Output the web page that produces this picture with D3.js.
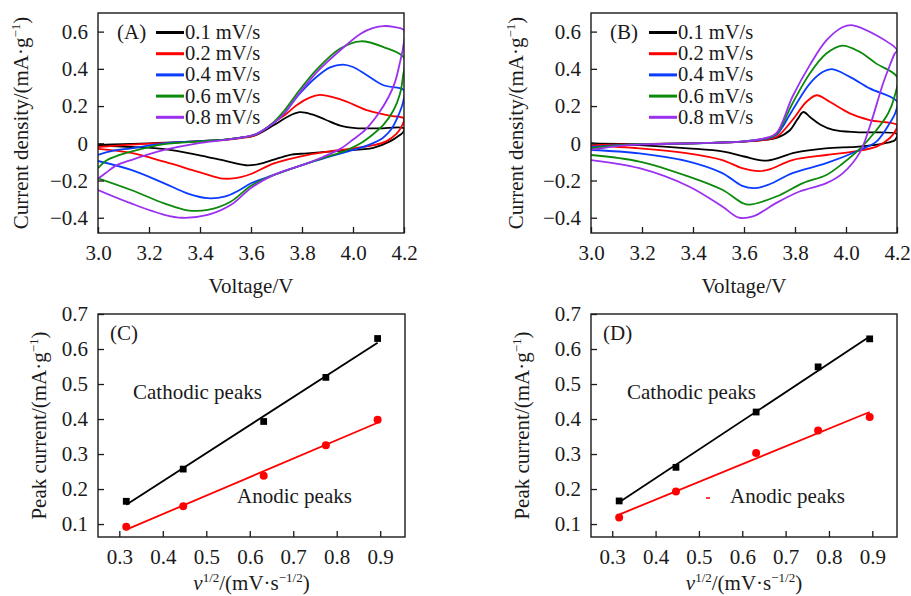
<!DOCTYPE html>
<html>
<head>
<meta charset="utf-8">
<script src="https://cdn.jsdelivr.net/npm/d3@7"></script>
<style>
body { margin: 0; background: #fff; }
svg { display: block; font-family: "Liberation Serif", "Times New Roman", serif; }
</style>
</head>
<body>
<div id="figure"></div>
<script>
// scan rates and colours
const rateLabels = ['0.1 mV/s', '0.2 mV/s', '0.4 mV/s', '0.6 mV/s', '0.8 mV/s']
const rateColors = ['#000000', '#ff0000', '#0a3cff', '#0b8a0b', '#9b30f0']

const voltTicks = [3.0, 3.2, 3.4, 3.6, 3.8, 4.0, 4.2]
const currentTicks = [-0.4, -0.2, 0, 0.2, 0.4, 0.6]
const rootTicks = [0.3, 0.4, 0.5, 0.6, 0.7, 0.8, 0.9]
const peakTicks = [0.1, 0.2, 0.3, 0.4, 0.5, 0.6, 0.7]

// CV loops [voltage, current] : anodic sweep 3.0 -> 4.2 then cathodic sweep back
const cvA01 = [[3.0,-0.008],[3.1,-0.004],[3.2,0.0],[3.3,0.005],[3.4,0.012],[3.5,0.02],[3.56,0.03],[3.62,0.045],[3.69,0.098],[3.74,0.14],[3.79,0.167],[3.84,0.155],[3.89,0.128],[3.95,0.095],[4.01,0.082],[4.1,0.08],[4.2,0.08],
  [4.197,0.06],[4.184,0.045],[4.145,0.01],[4.08,-0.024],[3.95,-0.04],[3.82,-0.054],[3.75,-0.063],[3.69,-0.088],[3.63,-0.112],[3.58,-0.118],[3.5,-0.095],[3.39,-0.062],[3.26,-0.031],[3.13,-0.02],[3.0,-0.012]]
const cvA02 = [[3.0,-0.02],[3.1,-0.01],[3.2,-0.002],[3.3,0.004],[3.4,0.01],[3.5,0.018],[3.56,0.028],[3.62,0.045],[3.69,0.112],[3.74,0.16],[3.78,0.206],[3.83,0.245],[3.87,0.26],[3.92,0.248],[3.975,0.224],[4.05,0.18],[4.145,0.148],[4.2,0.133],
  [4.19,0.09],[4.17,0.05],[4.13,0.01],[4.08,-0.01],[3.95,-0.036],[3.82,-0.063],[3.69,-0.108],[3.6,-0.165],[3.56,-0.182],[3.52,-0.19],[3.48,-0.188],[3.39,-0.152],[3.26,-0.099],[3.13,-0.052],[3.0,-0.03]]
const cvA04 = [[3.0,-0.063],[3.06,-0.04],[3.13,-0.027],[3.26,0.0],[3.4,0.012],[3.5,0.02],[3.56,0.03],[3.62,0.048],[3.69,0.11],[3.73,0.16],[3.79,0.265],[3.86,0.36],[3.91,0.408],[3.96,0.423],[4.0,0.41],[4.05,0.37],[4.12,0.312],[4.2,0.285],
  [4.196,0.22],[4.178,0.15],[4.15,0.075],[4.118,0.03],[4.06,-0.01],[3.99,-0.04],[3.9,-0.075],[3.82,-0.108],[3.69,-0.17],[3.6,-0.215],[3.55,-0.255],[3.5,-0.285],[3.43,-0.295],[3.35,-0.269],[3.26,-0.215],[3.13,-0.143],[3.0,-0.095]]
const cvA06 = [[3.0,-0.134],[3.03,-0.095],[3.07,-0.07],[3.13,-0.045],[3.26,-0.005],[3.4,0.01],[3.5,0.02],[3.56,0.03],[3.62,0.05],[3.69,0.115],[3.73,0.175],[3.79,0.285],[3.86,0.4],[3.95,0.509],[4.03,0.548],[4.12,0.517],[4.2,0.46],
  [4.196,0.36],[4.184,0.265],[4.16,0.18],[4.12,0.1],[4.08,0.05],[4.03,0.0],[3.97,-0.04],[3.88,-0.08],[3.82,-0.108],[3.69,-0.17],[3.6,-0.228],[3.52,-0.314],[3.43,-0.358],[3.35,-0.36],[3.26,-0.323],[3.13,-0.251],[3.0,-0.188]]
const cvA08 = [[3.0,-0.19],[3.03,-0.16],[3.07,-0.12],[3.13,-0.09],[3.26,-0.036],[3.39,0.0],[3.5,0.018],[3.56,0.03],[3.62,0.05],[3.69,0.11],[3.73,0.16],[3.79,0.27],[3.86,0.385],[3.95,0.5],[4.03,0.589],[4.08,0.62],[4.12,0.63],[4.16,0.625],[4.2,0.607],
  [4.197,0.52],[4.185,0.44],[4.165,0.33],[4.14,0.25],[4.1,0.16],[4.05,0.075],[4.0,0.02],[3.95,-0.03],[3.88,-0.075],[3.82,-0.108],[3.69,-0.17],[3.6,-0.24],[3.52,-0.332],[3.43,-0.385],[3.33,-0.4],[3.26,-0.384],[3.13,-0.323],[3.0,-0.251]]

const cvB01 = [[3.0,0.0],[3.2,-0.003],[3.4,0.0],[3.6,0.009],[3.69,0.02],[3.73,0.03],[3.78,0.07],[3.81,0.13],[3.833,0.168],[3.86,0.14],[3.9,0.1],[3.95,0.072],[4.05,0.059],[4.2,0.05],
  [4.198,0.03],[4.19,0.015],[4.15,0.0],[4.05,-0.018],[3.92,-0.027],[3.8,-0.05],[3.69,-0.093],[3.6,-0.071],[3.52,-0.045],[3.38,-0.027],[3.19,-0.01],[3.0,0.0]]
const cvB02 = [[3.0,-0.01],[3.2,-0.004],[3.4,0.0],[3.6,0.009],[3.69,0.02],[3.73,0.036],[3.79,0.125],[3.845,0.223],[3.885,0.258],[3.936,0.223],[4.015,0.161],[4.093,0.125],[4.2,0.098],
  [4.195,0.07],[4.171,0.027],[4.12,-0.018],[4.027,-0.045],[3.923,-0.063],[3.79,-0.09],[3.7,-0.14],[3.66,-0.15],[3.593,-0.134],[3.515,-0.09],[3.38,-0.054],[3.19,-0.027],[3.0,-0.012]]
const cvB04 = [[3.0,-0.02],[3.1,-0.01],[3.2,-0.005],[3.4,0.0],[3.6,0.01],[3.69,0.025],[3.727,0.045],[3.79,0.178],[3.858,0.321],[3.91,0.384],[3.945,0.398],[4.015,0.357],[4.093,0.295],[4.2,0.225],
  [4.195,0.17],[4.171,0.107],[4.119,0.009],[4.054,-0.036],[3.923,-0.107],[3.79,-0.16],[3.7,-0.22],[3.645,-0.241],[3.593,-0.229],[3.515,-0.16],[3.384,-0.098],[3.19,-0.054],[3.0,-0.036]]
const cvB06 = [[3.0,-0.027],[3.1,-0.012],[3.2,-0.005],[3.4,0.0],[3.6,0.01],[3.69,0.028],[3.727,0.05],[3.79,0.214],[3.858,0.375],[3.923,0.482],[3.985,0.525],[4.054,0.491],[4.119,0.428],[4.2,0.357],
  [4.19,0.25],[4.165,0.16],[4.119,0.07],[4.054,-0.03],[3.988,-0.107],[3.923,-0.17],[3.831,-0.214],[3.727,-0.286],[3.62,-0.33],[3.593,-0.32],[3.515,-0.25],[3.384,-0.179],[3.19,-0.098],[3.0,-0.063]]
const cvB08 = [[3.0,-0.036],[3.1,-0.015],[3.2,-0.006],[3.4,0.0],[3.6,0.01],[3.69,0.03],[3.727,0.054],[3.79,0.25],[3.858,0.42],[3.923,0.553],[3.988,0.625],[4.027,0.634],[4.119,0.58],[4.2,0.5],
  [4.19,0.48],[4.178,0.44],[4.145,0.32],[4.093,0.089],[4.054,-0.05],[3.988,-0.16],[3.923,-0.214],[3.818,-0.259],[3.727,-0.32],[3.635,-0.393],[3.58,-0.4],[3.515,-0.34],[3.384,-0.232],[3.19,-0.134],[3.0,-0.09]]

// peak currents vs square root of scan rate
const sqrtRate = [0.316, 0.447, 0.632, 0.775, 0.894]
const cathodicC = [0.165, 0.257, 0.393, 0.519, 0.63]
const anodicC = [0.092, 0.151, 0.238, 0.325, 0.398]
const cathodicD = [0.166, 0.262, 0.42, 0.549, 0.629]
const anodicD = [0.119, 0.193, 0.303, 0.367, 0.406]

const svg = d3.select('#figure').append('svg')
  .attr('width', 911)
  .attr('height', 596)

svg.append('rect').attr('width', 911).attr('height', 596).attr('fill', '#fff')

const FS = 21
const ink = '#1a1a1a'

function fmtSigned(d) {
  if (d === 0) return '0'
  return (d < 0 ? '\u2212' : '') + Math.abs(d).toFixed(1)
}

function drawFrame(x, y, xTicks, yTicks, xFmt, yFmt, xPad, yPad) {
  const g = svg.append('g')
  const [x0, x1] = x.range()
  const [y1, y0] = y.range()

  g.append('g')
    .attr('transform', `translate(0,${y1})`)
    .call(d3.axisBottom(x).tickValues(xTicks).tickFormat(xFmt)
      .tickSizeInner(-6).tickSizeOuter(0).tickPadding(xPad))
    .call(a => a.select('.domain').remove())

  g.append('g')
    .attr('transform', `translate(${x0},0)`)
    .call(d3.axisLeft(y).tickValues(yTicks).tickFormat(yFmt)
      .tickSizeInner(-6).tickSizeOuter(0).tickPadding(yPad))
    .call(a => a.select('.domain').remove())

  g.selectAll('.tick line').attr('stroke', ink).attr('stroke-width', 1.3)
  g.selectAll('.tick text')
    .attr('fill', ink)
    .style('font-family', '"Liberation Serif", serif')
    .style('font-size', FS + 'px')

  g.append('rect')
    .attr('x', x0).attr('y', y0)
    .attr('width', x1 - x0).attr('height', y1 - y0)
    .attr('fill', 'none')
    .attr('stroke', ink)
    .attr('stroke-width', 1.4)
  return g
}

function label(px, py, str, anchor, size) {
  return svg.append('text')
    .attr('x', px).attr('y', py)
    .attr('text-anchor', anchor || 'start')
    .attr('fill', ink)
    .style('font-size', (size || FS) + 'px')
    .text(str)
}

function yTitle(px, py, main) {
  const t = svg.append('text')
    .attr('transform', `translate(${px},${py}) rotate(-90)`)
    .attr('text-anchor', 'middle')
    .attr('fill', ink)
    .style('font-size', FS + 'px')
  t.append('tspan').text(main + '/(mA\u00b7g')
  t.append('tspan').attr('dy', -8).style('font-size', '13px').text('\u22121')
  t.append('tspan').attr('dy', 8).text(')')
}

function rootTitle(px, py) {
  const t = svg.append('text')
    .attr('x', px).attr('y', py)
    .attr('text-anchor', 'middle')
    .attr('fill', ink)
    .style('font-size', FS + 'px')
  t.append('tspan').style('font-style', 'italic').text('v')
  t.append('tspan').attr('dy', -8).style('font-size', '13px').text('1/2')
  t.append('tspan').attr('dy', 8).text('/(mV\u00b7s')
  t.append('tspan').attr('dy', -8).style('font-size', '13px').text('\u22121/2')
  t.append('tspan').attr('dy', 8).text(')')
}

// ---------- CV panels ----------
function cvPanel(x0, x1, loops, tag) {
  const x = d3.scaleLinear().domain([3.0, 4.2]).range([x0, x1])
  const y = d3.scaleLinear().domain([-0.482, 0.70]).range([233, 13])
  const line = d3.line()
    .x(d => x(d[0]))
    .y(d => y(d[1]))
    .curve(d3.curveCatmullRom.alpha(0.5))

  const clipId = 'clip' + tag
  svg.append('clipPath').attr('id', clipId)
    .append('rect').attr('x', x0).attr('y', 13).attr('width', x1 - x0).attr('height', 220)

  svg.append('g').attr('clip-path', `url(#${clipId})`)
    .selectAll('path')
    .data(loops)
    .join('path')
    .attr('d', line)
    .attr('fill', 'none')
    .attr('stroke', (d, i) => rateColors[i])
    .attr('stroke-width', 1.8)

  drawFrame(x, y, voltTicks, currentTicks, d3.format('.1f'), fmtSigned, 12, 10)

  // legend
  const lg = svg.append('g')
  rateLabels.forEach((r, i) => {
    const cy = 32.5 + i * 21.2
    lg.append('line')
      .attr('x1', x0 + 58).attr('x2', x0 + 86)
      .attr('y1', cy).attr('y2', cy)
      .attr('stroke', rateColors[i])
      .attr('stroke-width', 3)
    label(x0 + 87, cy + 6.5, r, 'start', 20.5)
  })
  label(x0 + 19, 39, '(' + tag + ')')
  label((x0 + x1) / 2, 293, 'Voltage/V', 'middle')
}

cvPanel(98, 404, [cvA01, cvA02, cvA04, cvA06, cvA08], 'A')
cvPanel(591, 897, [cvB01, cvB02, cvB04, cvB06, cvB08], 'B')
yTitle(27.5, 123, 'Current density')
yTitle(522.5, 123, 'Current density')

// ---------- peak current panels ----------
function fit(xs, ys) {
  const mx = d3.mean(xs), my = d3.mean(ys)
  const k = d3.sum(xs, (v, i) => (v - mx) * (ys[i] - my)) / d3.sum(xs, v => (v - mx) ** 2)
  return v => my + k * (v - mx)
}

function peakPanel(x0, x1, cath, anod, tag, cathX, anodX) {
  const x = d3.scaleLinear().domain([0.251, 0.957]).range([x0, x1])
  const y = d3.scaleLinear().domain([0.063, 0.70]).range([537, 314])

  drawFrame(x, y, rootTicks, peakTicks, d3.format('.1f'), d3.format('.1f'), 12, 10)

  const series = [
    { vals: cath, color: '#000000', shape: 'square' },
    { vals: anod, color: '#ff0000', shape: 'circle' }
  ]
  series.forEach(s => {
    const f = fit(sqrtRate, s.vals)
    const ends = d3.extent(sqrtRate)
    svg.append('line')
      .attr('x1', x(ends[0])).attr('y1', y(f(ends[0])))
      .attr('x2', x(ends[1])).attr('y2', y(f(ends[1])))
      .attr('stroke', s.color)
      .attr('stroke-width', 1.8)
    svg.append('g').selectAll('path')
      .data(sqrtRate)
      .join('path')
      .attr('transform', (d, i) => `translate(${x(d)},${y(s.vals[i])})`)
      .attr('d', d3.symbol(s.shape === 'square' ? d3.symbolSquare : d3.symbolCircle, s.shape === 'square' ? 46 : 50))
      .attr('fill', s.color)
  })

  label(x0 + 12, 340, '(' + tag + ')')
  label(cathX, 399, 'Cathodic peaks')
  label(anodX, 503, 'Anodic peaks')
  rootTitle((x0 + x1) / 2, 590)
}

peakPanel(98, 405, cathodicC, anodicC, 'C', 133, 237)
peakPanel(591, 897, cathodicD, anodicD, 'D', 627, 730)
yTitle(45.5, 425.5, 'Peak current')
yTitle(528.5, 425.5, 'Peak current')

// small red stroke left of the anodic label in (D)
svg.append('line')
  .attr('x1', 706).attr('x2', 710).attr('y1', 498).attr('y2', 498)
  .attr('stroke', '#ff0000').attr('stroke-width', 1.5)
</script>
</body>
</html>
